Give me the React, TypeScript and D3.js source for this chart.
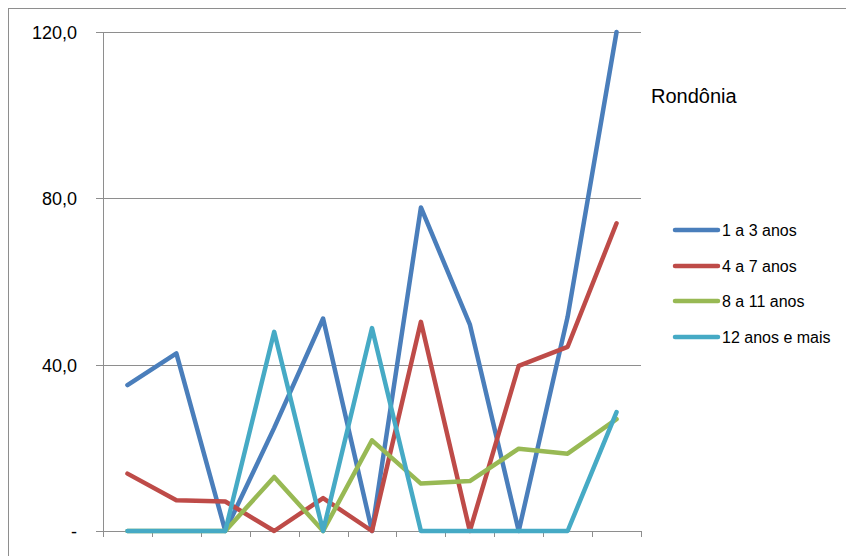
import React, { useEffect, useRef } from "react";
import * as d3 from "d3";

const categories = ["1", "2", "3", "4", "5", "6", "7", "8", "9", "10", "11"];
const seriesNames = ["1 a 3 anos", "4 a 7 anos", "8 a 11 anos", "12 anos e mais"];
const s1a3 = [35.1, 42.7, 0, 24.8, 51.1, 0, 77.8, 49.7, 0, 51.5, 120.0];
const s4a7 = [13.8, 7.4, 7.1, 0, 7.9, 0, 50.3, 0, 39.7, 44.3, 74.0];
const s8a11 = [0, 0, 0, 13.0, 0, 21.8, 11.4, 12.0, 19.8, 18.6, 26.9];
const s12 = [0, 0, 0, 47.9, 0, 48.8, 0, 0, 0, 0, 28.6];
const colors = ["#4A7EBB", "#BE4B48", "#98B954", "#46AAC5"];
const yTicks = [0, 40, 80, 120];
const yTickLabels = ["-", "40,0", "80,0", "120,0"];
const title = "Rondônia";

export default function App() {
  const ref = useRef<SVGSVGElement>(null);
  useEffect(() => {
    const svg = d3.select(ref.current);
    svg.selectAll("*").remove();
    const font = "'Liberation Sans', Arial, sans-serif";
    const grey = "#8E8E8E";
    const left = 103, right = 641, top = 32, bottom = 531;

    // outer frame
    svg.append("rect").attr("x", 8.5).attr("y", 8.5).attr("width", 900).attr("height", 600)
      .attr("fill", "none").attr("stroke", grey).attr("stroke-width", 1);

    const x = d3.scaleBand().domain(categories).range([left, right]).padding(0);
    const y = d3.scaleLinear().domain([0, 120]).range([bottom, top]);

    // gridlines
    yTicks.forEach((t, i) => {
      const yy = Math.round(y(t)) + 0.5;
      svg.append("line").attr("x1", left - 7).attr("x2", right).attr("y1", yy).attr("y2", yy)
        .attr("stroke", grey).attr("stroke-width", 1);
      svg.append("text").attr("x", 77).attr("y", yy).attr("dy", "0.35em")
        .attr("text-anchor", "end").attr("font-family", font).attr("font-size", 18)
        .attr("fill", "#000").text(yTickLabels[i]);
    });
    // y axis
    svg.append("line").attr("x1", left + 0.5).attr("x2", left + 0.5).attr("y1", top).attr("y2", bottom + 6)
      .attr("stroke", grey).attr("stroke-width", 1);
    // x ticks
    const edges = categories.map((c) => x(c) as number).concat([right]);
    edges.forEach((e) => {
      const xx = Math.round(e) + 0.5;
      svg.append("line").attr("x1", xx).attr("x2", xx).attr("y1", bottom).attr("y2", bottom + 6)
        .attr("stroke", grey).attr("stroke-width", 1);
    });

    const all = [s1a3, s4a7, s8a11, s12];
    const line = d3.line<number>()
      .x((_, i) => (x(categories[i]) as number) + x.bandwidth() / 2)
      .y((d) => y(d));
    all.forEach((s, k) => {
      svg.append("path").attr("d", line(s) as string).attr("fill", "none")
        .attr("stroke", colors[k]).attr("stroke-width", 4.5)
        .attr("stroke-linejoin", "round").attr("stroke-linecap", "round");
    });

    // title
    svg.append("text").attr("x", 651).attr("y", 103).attr("font-family", font)
      .attr("font-size", 20).attr("fill", "#000").text(title);

    // legend
    const ly = [230, 266, 301, 337];
    seriesNames.forEach((n, k) => {
      svg.append("line").attr("x1", 675).attr("x2", 718).attr("y1", ly[k]).attr("y2", ly[k])
        .attr("stroke", colors[k]).attr("stroke-width", 4.5).attr("stroke-linecap", "round");
      svg.append("text").attr("x", 722).attr("y", ly[k]).attr("dy", "0.35em")
        .attr("font-family", font).attr("font-size", 16).attr("fill", "#000").text(n);
    });
  }, []);
  return (
    <svg ref={ref} width={846} height={556}
      style={{ position: "absolute", left: 0, top: 0, background: "#fff" }} />
  );
}
